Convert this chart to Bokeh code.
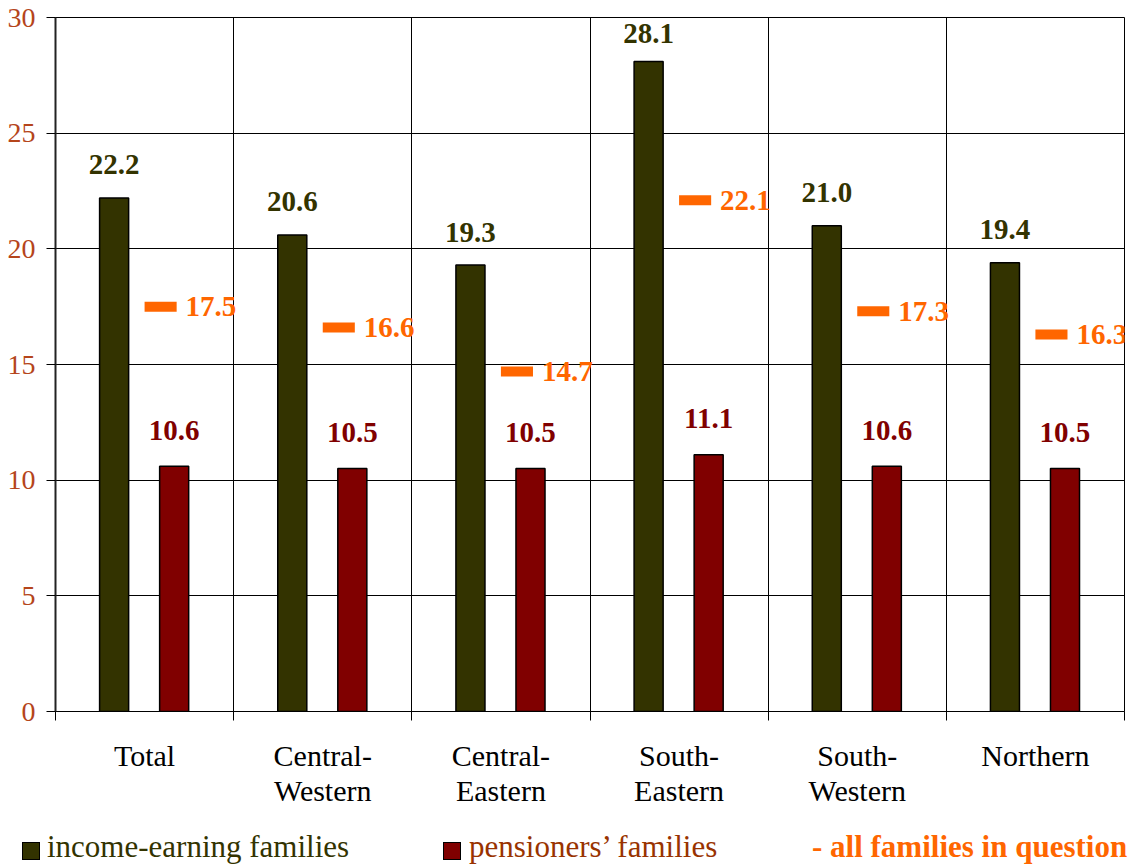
from bokeh.plotting import figure
from bokeh.layouts import column
from bokeh.models import FixedTicker, Range1d, Div
from bokeh.core.properties import value
from bokeh.embed import file_html
from bokeh.resources import INLINE

# ---- data ----
regions = ["Total", "Central-\nWestern", "Central-\nEastern", "South-\nEastern",
           "South-\nWestern", "Northern"]
income_earning = [22.2, 20.6, 19.3, 28.1, 21.0, 19.4]
pensioners = [10.6, 10.5, 10.5, 11.1, 10.6, 10.5]
all_families = [17.5, 16.6, 14.7, 22.1, 17.3, 16.3]
y_ticks = [0, 5, 10, 15, 20, 25, 30]
legend_labels = ["income-earning families", "pensioners\u2019 families",
                 "- all families in question"]

FONT = "Liberation Serif"
GREEN = "#333300"
RED = "#800000"
ORANGE = "#ff6600"
TICK_C = "#b5451b"
PENS_TXT = "#993300"

n = len(regions)
idx = list(range(n))
x_inc = [i + 0.329 for i in idx]
x_pen = [i + 0.666 for i in idx]
x_all = [i + 0.59 for i in idx]
x_all_lab = [i + 0.73 for i in idx]
LABEL_CEIL = 27.88  # keep value labels inside the plot area
y_inc_lab = [min(v, LABEL_CEIL) for v in income_earning]

p = figure(width=1137, height=811, x_range=Range1d(0, n), y_range=Range1d(0, 30),
           output_backend="svg", toolbar_location=None,
           min_border_left=55, min_border_right=13, min_border_top=17,
           min_border_bottom=100)
p.background_fill_color = "white"
p.border_fill_color = "white"
p.outline_line_color = "black"
p.outline_line_width = 1

# bars
p.vbar(x=x_inc, top=income_earning, width=0.163, bottom=0,
       fill_color=GREEN, line_color="black", line_width=1.5)
p.vbar(x=x_pen, top=pensioners, width=0.163, bottom=0,
       fill_color=RED, line_color="black", line_width=1.5)
p.rect(x=x_all, y=all_families, width=0.18, height=10, height_units="screen",
       fill_color=ORANGE, line_color=None)

# value labels
fmt = lambda v: f"{v:.1f}"
p.text(x=x_inc, y=y_inc_lab, text=[fmt(v) for v in income_earning],
       text_font=value(FONT), text_font_style="bold", text_font_size="29px",
       text_color=GREEN, text_align="center", text_baseline="alphabetic", y_offset=-33)
p.text(x=x_pen, y=pensioners, text=[fmt(v) for v in pensioners],
       text_font=value(FONT), text_font_style="bold", text_font_size="29px",
       text_color=RED, text_align="center", text_baseline="alphabetic", y_offset=-36)
p.text(x=x_all_lab, y=all_families, text=[fmt(v) for v in all_families],
       text_font=value(FONT), text_font_style="bold", text_font_size="29px",
       text_color=ORANGE, text_align="left", text_baseline="middle")

# axes
p.yaxis.ticker = FixedTicker(ticks=y_ticks)
p.yaxis.major_label_text_font = FONT
p.yaxis.major_label_text_font_size = "28px"
p.yaxis.major_label_text_color = TICK_C
p.yaxis.major_tick_out = 9
p.yaxis.major_tick_in = 0
p.yaxis.minor_tick_line_color = None
p.yaxis.major_label_standoff = 11
p.yaxis.axis_line_width = 2
p.yaxis.axis_line_color = "#222222"

p.xaxis.ticker = FixedTicker(ticks=[i + 0.5 for i in idx],
                             minor_ticks=list(range(n + 1)))
p.xaxis.major_label_overrides = {i + 0.5: regions[i] for i in idx}
p.xaxis.major_tick_line_color = None
p.xaxis.major_tick_out = 0
p.xaxis.major_tick_in = 0
p.xaxis.minor_tick_out = 9
p.xaxis.minor_tick_in = 0
p.xaxis.minor_tick_line_color = "black"
p.xaxis.major_label_text_font = FONT
p.xaxis.major_label_text_font_size = "30px"
p.xaxis.major_label_text_color = "black"
p.xaxis.major_label_text_line_height = 1.08
p.xaxis.major_label_standoff = 18
p.xaxis.axis_line_color = "black"

p.xgrid.ticker = FixedTicker(ticks=list(range(n + 1)))
p.xgrid.grid_line_color = "black"
p.xgrid.grid_line_width = 1
p.ygrid.ticker = FixedTicker(ticks=y_ticks)
p.ygrid.grid_line_color = "black"
p.ygrid.grid_line_width = 1

# legend strip under the chart
sq_style = ("position:absolute;top:31px;width:18px;height:18px;"
            "border:1.5px solid #000;box-sizing:border-box;")
txt_style = ("position:absolute;top:21px;line-height:30px;white-space:nowrap;"
             "font-family:'%s';font-size:31px;" % FONT)
legend_html = (
    '<div style="position:relative;width:1137px;height:55px;overflow:visible;">'
    f'<span style="{sq_style}left:22px;background:{GREEN};"></span>'
    f'<span style="{txt_style}left:47px;color:{GREEN};">{legend_labels[0]}</span>'
    f'<span style="{sq_style}left:443px;background:{RED};"></span>'
    f'<span style="{txt_style}left:469px;color:{PENS_TXT};">{legend_labels[1]}</span>'
    f'<span style="{txt_style}left:812px;color:{ORANGE};font-weight:bold;">{legend_labels[2]}</span>'
    '</div>'
)
legend = Div(text=legend_html, width=1137, height=55, margin=(0, 0, 0, 0))

layout = column(p, legend, spacing=0)
open("out.html", "w").write(file_html(layout, INLINE))
